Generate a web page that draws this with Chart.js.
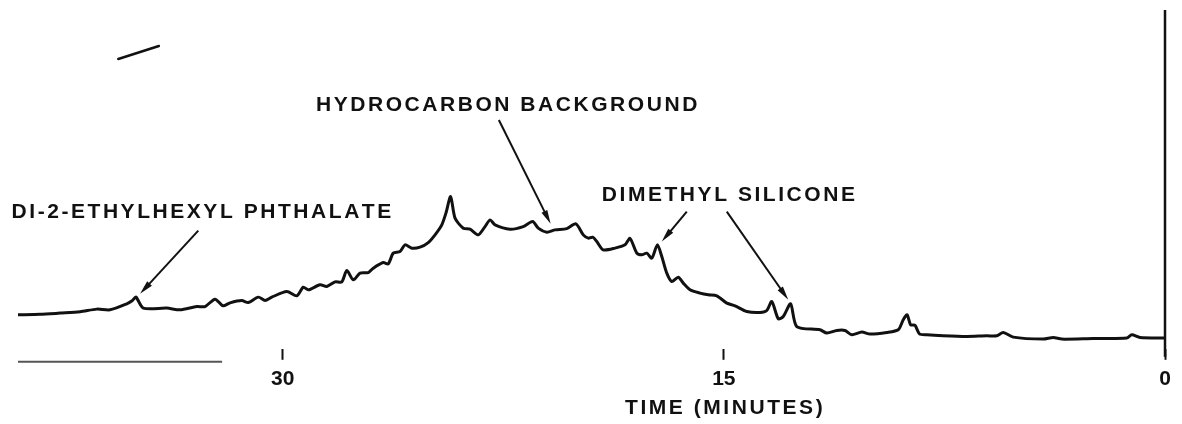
<!DOCTYPE html>
<html>
<head>
<meta charset="utf-8">
<title>Chromatogram</title>
<script src="https://cdn.jsdelivr.net/npm/chart.js@4.4.1/dist/chart.umd.min.js"></script>
<style>
  html, body { margin: 0; padding: 0; background: #fff; }
</style>
</head>
<body>
<canvas id="myChart" width="1182" height="424"></canvas>
<script>
// retention time (minutes) and detector response (arbitrary units)
const times = [
  38.99, 38.25, 37.57, 36.89, 36.32, 35.87, 35.30, 35.12, 34.99, 34.74,
  33.94, 33.49, 32.92, 32.64, 32.30, 32.03, 31.79, 31.39, 31.17, 30.83,
  30.60, 30.37, 29.86, 29.52, 29.30, 29.13, 28.73, 28.50, 28.22, 27.99,
  27.82, 27.60, 27.37, 27.09, 26.92, 26.58, 26.41, 26.24, 26.01, 25.84,
  25.61, 25.33, 25.05, 24.82, 24.59, 24.45, 24.29, 24.14, 23.86, 23.63,
  23.35, 23.12, 22.95, 22.78, 22.27, 21.82, 21.50, 21.31, 21.02, 20.74,
  20.34, 20.03, 19.78, 19.61, 19.46, 19.32, 19.10, 18.70, 18.36, 18.19,
  17.96, 17.79, 17.62, 17.45, 17.26, 17.11, 16.94, 16.77, 16.55, 16.38,
  16.15, 15.81, 15.53, 15.24, 14.90, 14.62, 14.22, 13.77, 13.54, 13.37,
  13.15, 12.98, 12.73, 12.52, 11.73, 11.50, 11.16, 10.88, 10.65, 10.31,
  10.03, 9.46, 9.07, 8.90, 8.77, 8.65, 8.50, 8.35, 8.10, 7.54,
  6.74, 6.06, 5.72, 5.50, 5.16, 4.14, 3.80, 3.51, 2.44, 1.30,
  1.13, 0.85, 0
];
const response = [
  34, 34.5, 35.7, 37, 39.7, 39, 45, 48, 51.7, 40.7,
  40.7, 39, 42.3, 42.3, 49.7, 43, 46, 48.3, 46.3, 51.7,
  48.3, 51.7, 57.3, 53, 61.7, 59, 64, 62.3, 67, 67,
  78.3, 69, 75.7, 76.3, 80.7, 86.3, 85, 95.7, 97.3, 104,
  100.7, 101.7, 106.3, 114, 124, 135.7, 152.3, 130.7, 120.7, 119.7,
  114, 122.3, 129, 124, 119.7, 122.3, 127.3, 120.7, 116.7, 119,
  120.3, 125, 114, 110.7, 111.7, 107.3, 99, 100.7, 104, 110.5,
  95.7, 94, 95.7, 90.7, 104, 92.3, 75.7, 67.3, 71.7, 65.7,
  59, 55.7, 54, 53, 45.7, 43, 37.3, 36.3, 38.3, 47.3,
  30, 32.3, 45, 22.3, 19, 15.7, 18.3, 18.3, 14, 16.7,
  14.7, 16.3, 19, 29, 34, 24, 23.5, 15, 14, 13,
  12.3, 13, 13, 16.3, 11.7, 9.7, 11.3, 9.7, 10.3, 10.7,
  14, 11.3, 10.7
];

// solvent front: the pen runs off scale at injection (t = 0)
const solventTimes = [0, 0];
const solventResponse = [-8, 339];

// stray pen mark near the top left of the record
const strayTimes = [35.59, 34.21];
const strayResponse = [290, 303];

// leftover piece of the time axis line
const stubTimes = [39, 32.06];
const stubResponse = [-13, -13];

const tickTimes = [30, 15, 0];
const axisTitle = 'TIME (MINUTES)';

function points(xs, ys) {
  return xs.map((x, i) => ({ x: x, y: ys[i] }));
}

// callouts: text anchored at [time, response], arrows from tail to tip (peaks)
const callouts = [
  { text: 'DI-2-ETHYLHEXYL PHTHALATE', at: [39.22, 136.5], arrows: [[[32.87, 118.3], [34.85, 55]]] },
  { text: 'HYDROCARBON BACKGROUND', at: [28.87, 244], arrows: [[[22.65, 229], [20.89, 125]]] },
  { text: 'DIMETHYL SILICONE', at: [19.15, 154], arrows: [[[16.26, 137.3], [17.11, 107.3]], [[14.90, 137.3], [12.81, 49]]] }
];

const FAMILY = '"Liberation Sans", Arial, sans-serif';
const FONT = 'bold 21px ' + FAMILY;
const SPACING = 2.55;

function spacedText(ctx, text, x, y) {
  for (const ch of text) {
    ctx.fillText(ch, x, y);
    x += ctx.measureText(ch).width + SPACING;
  }
}

function spacedWidth(ctx, text) {
  let w = 0;
  for (const ch of text) w += ctx.measureText(ch).width + SPACING;
  return w - SPACING;
}

function arrow(ctx, x1, y1, x2, y2) {
  let a = Math.atan2(y2 - y1, x2 - x1);
  let len = 14, half = 3.2;
  let c = Math.cos(a), s = Math.sin(a);
  ctx.beginPath();
  ctx.moveTo(x1, y1);
  ctx.lineTo(x2 - c * len * 0.7, y2 - s * len * 0.7);
  ctx.stroke();
  ctx.beginPath();
  ctx.moveTo(x2, y2);
  ctx.lineTo(x2 - c * len + s * half, y2 - s * len - c * half);
  ctx.lineTo(x2 - c * len - s * half, y2 - s * len + c * half);
  ctx.closePath();
  ctx.fill();
}

const calloutPlugin = {
  id: 'callouts',
  afterDraw(chart) {
    let ctx = chart.ctx;
    let xs = chart.scales.x, ys = chart.scales.y;
    ctx.save();
    ctx.fillStyle = '#111';
    ctx.strokeStyle = '#111';
    ctx.lineWidth = 2;
    ctx.font = FONT;
    ctx.textBaseline = 'middle';
    ctx.textAlign = 'left';
    callouts.forEach((c) => {
      spacedText(ctx, c.text, xs.getPixelForValue(c.at[0]), ys.getPixelForValue(c.at[1]));
      c.arrows.forEach((ar) => {
        arrow(ctx,
          xs.getPixelForValue(ar[0][0]), ys.getPixelForValue(ar[0][1]),
          xs.getPixelForValue(ar[1][0]), ys.getPixelForValue(ar[1][1]));
      });
    });
    // axis title, centred under the 15 minute tick
    let tx = xs.getPixelForValue(15) - spacedWidth(ctx, axisTitle) / 2;
    spacedText(ctx, axisTitle, tx, 408);
    ctx.restore();
  }
};

new Chart(document.getElementById('myChart'), {
  type: 'line',
  data: {
    datasets: [
      {
        label: 'trace',
        data: points(times, response),
        borderColor: '#111',
        borderWidth: 3,
        pointRadius: 0,
        tension: 0.25,
        borderJoinStyle: 'round',
        borderCapStyle: 'round'
      },
      {
        label: 'solvent',
        data: points(solventTimes, solventResponse),
        borderColor: '#111',
        borderWidth: 2.5,
        pointRadius: 0,
        clip: false
      },
      {
        label: 'stray',
        data: points(strayTimes, strayResponse),
        borderColor: '#111',
        borderWidth: 2.5,
        borderCapStyle: 'round',
        pointRadius: 0,
        clip: false
      },
      {
        label: 'axis',
        data: points(stubTimes, stubResponse),
        borderColor: '#555',
        borderWidth: 2,
        pointRadius: 0,
        clip: false
      }
    ]
  },
  options: {
    responsive: false,
    animation: false,
    layout: { padding: { left: 18, right: 17, top: 0, bottom: 25 } },
    plugins: {
      legend: { display: false },
      tooltip: { enabled: false }
    },
    scales: {
      x: {
        type: 'linear',
        reverse: true,
        min: 0,
        max: 39,
        afterBuildTicks: (s) => { s.ticks = tickTimes.map((v) => ({ value: v })); },
        afterFit: (s) => { s.paddingLeft = 0; s.paddingRight = 0; },
        border: { display: false },
        grid: {
          drawOnChartArea: false,
          drawTicks: true,
          tickLength: 11,
          tickWidth: 2,
          tickColor: '#111'
        },
        ticks: {
          color: '#111',
          padding: 7,
          maxRotation: 0,
          autoSkip: false,
          font: { family: FAMILY, size: 21, weight: 'bold' }
        }
      },
      y: { display: false, min: 0, max: 349 }
    }
  },
  plugins: [calloutPlugin]
});
</script>
</body>
</html>
